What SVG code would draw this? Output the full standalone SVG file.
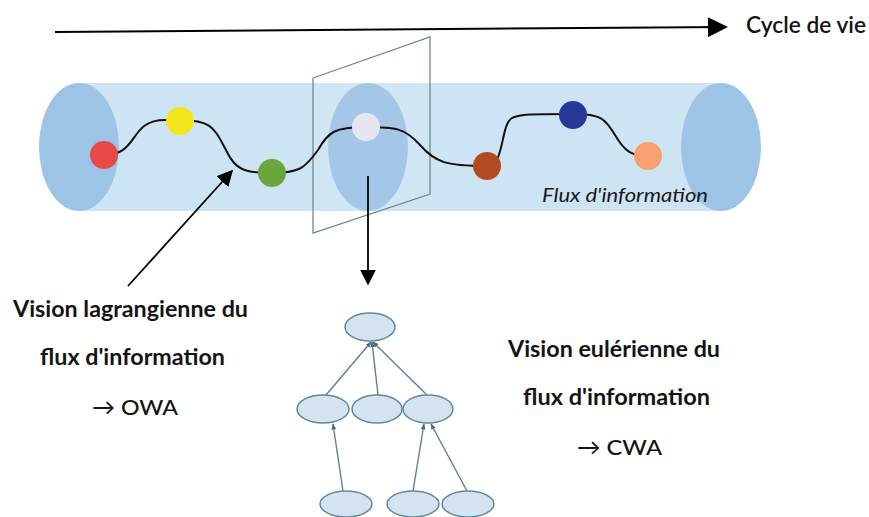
<svg xmlns="http://www.w3.org/2000/svg" width="869" height="517" viewBox="0 0 869 517">
<defs>
<style>
.lbl{font-family:Lato,"Open Sans","Liberation Sans",sans-serif;font-weight:bold;font-size:22px;fill:#141414}
.reg{font-weight:normal}
.end{fill:#9dc3e6}
.dot{stroke:none}
.tn{fill:#d5e3f0;stroke:#5f8a9c;stroke-width:1.5}
.te{stroke:#5a8291;stroke-width:1.4;fill:none;marker-end:url(#sm)}
</style>
<marker id="arr" viewBox="0 0 10 10" refX="9" refY="5" markerWidth="16" markerHeight="16" orient="auto" markerUnits="userSpaceOnUse">
<path d="M0,0 L10,5 L0,10 z" fill="#000"/>
</marker>
<marker id="top" viewBox="0 0 10 10" refX="9" refY="5" markerWidth="24" markerHeight="20" orient="auto" markerUnits="userSpaceOnUse">
<path d="M0,0 L10,5 L0,10 z" fill="#000"/>
</marker>
<marker id="sm" viewBox="0 0 10 10" refX="9" refY="5" markerWidth="6" markerHeight="6" orient="auto" markerUnits="userSpaceOnUse">
<path d="M0,1 L10,5 L0,9 z" fill="#4a6a78"/>
</marker>
</defs>
<rect width="869" height="517" fill="#fff"/>
<g id="cycle">
<line x1="55" y1="32" x2="726" y2="27" stroke="#000" stroke-width="2" marker-end="url(#top)"/>
<text class="lbl" x="746" y="33" font-size="22" textLength="120" lengthAdjust="spacingAndGlyphs" style="font-weight:600;font-size:22px">Cycle de vie</text>
</g>
<g id="tube">
<rect x="79" y="83" width="642" height="128" fill="#cde4f4"/>
<ellipse class="end" cx="79" cy="147" rx="40" ry="64"/>
<ellipse class="end" cx="368" cy="147" rx="40" ry="64"/>
<ellipse class="end" cx="721" cy="147" rx="40" ry="64"/>
</g>
<g id="plane">
<polygon points="313,78 430,37 430,194 313,233" fill="#ffffff" fill-opacity="0.08" stroke="#6b8c8c" stroke-width="1.3"/>
</g>
<g id="flux">
<path d="M104,155 C140,155 128,120 165,120 L180,120 C212,120 214,128 226,150 C235,170 245,173 271,173 C300,173 305,168 318,150 C328,132 335,127 366,127 C395,127 405,128 420,145 C435,162 445,166 487,166 C505,166 500,125 512,118 C520,114 530,114 574,114 C600,114 605,118 615,135 C625,152 632,156 648,156" fill="none" stroke="#111" stroke-width="2"/>
<text x="542" y="202" font-family="Lato,'Open Sans','Liberation Sans',sans-serif" font-style="italic" font-size="19" fill="#1a1a1a" textLength="166" lengthAdjust="spacingAndGlyphs">Flux d'information</text>
</g>
<g id="d1"><circle class="dot" cx="104" cy="155" r="14" fill="#e84848"/></g>
<g id="d2"><circle class="dot" cx="180" cy="121" r="14" fill="#f4e61c"/></g>
<g id="d3"><circle class="dot" cx="272" cy="173" r="14" fill="#6aa63a"/></g>
<g id="d4"><circle class="dot" cx="366" cy="127" r="14" fill="#e6e6f2"/></g>
<g id="d5"><circle class="dot" cx="487" cy="166" r="14" fill="#b54a20"/></g>
<g id="d6"><circle class="dot" cx="573" cy="115" r="14" fill="#283898"/></g>
<g id="d7"><circle class="dot" cx="648" cy="156" r="14" fill="#f8a070"/></g>
<g id="connectors">
<line x1="128" y1="286" x2="232" y2="171" stroke="#000" stroke-width="1.8" marker-end="url(#arr)"/>
<line x1="368" y1="176" x2="368" y2="284" stroke="#000" stroke-width="1.8" marker-end="url(#arr)"/>
<line class="te" x1="326" y1="395" x2="371" y2="342"/>
<line class="te" x1="378" y1="395" x2="372" y2="342"/>
<line class="te" x1="427" y1="395" x2="373" y2="342"/>
<line class="te" x1="343" y1="491" x2="333" y2="424"/>
<line class="te" x1="413" y1="491" x2="424" y2="424"/>
<line class="te" x1="467" y1="491" x2="431" y2="424"/>
</g>
<g id="t0"><ellipse class="tn" cx="370" cy="327" rx="25" ry="14"/></g>
<g id="m1"><ellipse class="tn" cx="323" cy="409" rx="26" ry="14"/></g>
<g id="m2"><ellipse class="tn" cx="377" cy="409" rx="25" ry="14"/></g>
<g id="m3"><ellipse class="tn" cx="428" cy="409" rx="25" ry="14"/></g>
<g id="b1"><ellipse class="tn" cx="346" cy="504" rx="26" ry="13"/></g>
<g id="b2"><ellipse class="tn" cx="413" cy="504" rx="26" ry="13"/></g>
<g id="b3"><ellipse class="tn" cx="468" cy="504" rx="26" ry="13"/></g>
<g id="lagrange">
<text class="lbl" x="13" y="317" textLength="235" lengthAdjust="spacingAndGlyphs">Vision lagrangienne du</text>
<text class="lbl" x="40" y="365" textLength="185" lengthAdjust="spacingAndGlyphs">flux d'information</text>
<text class="lbl" x="92" y="415" textLength="86" lengthAdjust="spacingAndGlyphs" style="font-weight:500">→ OWA</text>
</g>
<g id="euler">
<text class="lbl" x="508" y="357" textLength="212" lengthAdjust="spacingAndGlyphs">Vision eulérienne du</text>
<text class="lbl" x="523" y="405" textLength="187" lengthAdjust="spacingAndGlyphs">flux d'information</text>
<text class="lbl" x="577" y="455" textLength="85" lengthAdjust="spacingAndGlyphs" style="font-weight:500">→ CWA</text>
</g>
</svg>
